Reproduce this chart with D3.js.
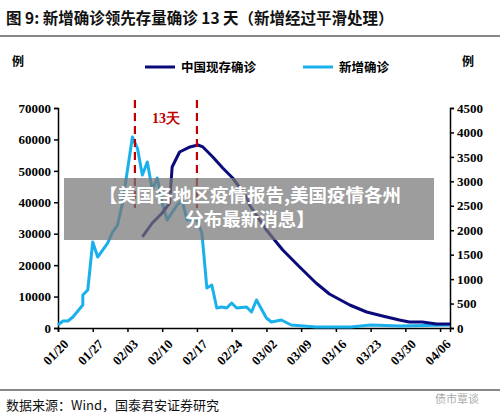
<!DOCTYPE html>
<html><head><meta charset="utf-8">
<script src="https://cdn.jsdelivr.net/npm/d3@7"></script>
<style>body{margin:0;background:#fff}</style>
</head><body>
<script>
// day offsets from 2020-01-20
var newDays = [0,1,2,3,5,5,6,7,8,10,11,12,13,14,15,16,17,18,19,20,21,22,24,25,26,28,29,30,31,32,33,34,35,36,38,39,40,42,43,45,47,52,59,63,69,79];
var newVals = [61,143,143,225,470,675,777,1759,1452,1738,1963,2106,2557,3231,3906,3681,3129,3395,2822,3068,2557,2209,2515,2618,2209,2209,1943,818,879,409,429,409,511,409,429,327,573,205,123,164,61,20,20,61,41,61];
var curDays = [17,19,21,22.5,23,24.5,26.6,28.2,29.2,31.2,33.2,35.2,38,38.6,42,45.3,48.7,52,54.7,58.8,62.2,65.4,68.8,70.8,73.4,76.3,79];
var curVals = [28960,33410,36590,39770,51230,56000,57600,58230,57600,54410,50910,47730,41680,39140,31180,24820,19410,14320,10820,7320,5090,3820,2550,1910,1910,1270,1270];
var tickDays = [0,7,14,21,28,35,42,49,56,63,70,77];
var tickLabels = ['01/20','01/27','02/03','02/10','02/17','02/24','03/02','03/09','03/16','03/23','03/30','04/06'];
var leftTicks = [0,10000,20000,30000,40000,50000,60000,70000];
var rightTicks = [0,500,1000,1500,2000,2500,3000,3500,4000,4500];
var markDays = [15.5, 28];

var W = 500, H = 419, serif = '"Liberation Serif","Times New Roman",serif', cjk = '"Noto Sans CJK SC",sans-serif';
var svg = d3.select('body').append('svg').attr('width', W).attr('height', H);

var x = d3.scaleLinear().domain([0, 79]).range([58, 450]);
var yL = d3.scaleLinear().domain([0, 70000]).range([328, 108]);
var yR = d3.scaleLinear().domain([0, 4500]).range([328, 108]);

// title
svg.append('text').attr('x', 6).attr('y', 24).attr('font-family', cjk).attr('font-weight', 'bold')
	.attr('font-size', 15.5).attr('fill', '#111').text('图 9: 新增确诊领先存量确诊 13 天（新增经过平滑处理）');
svg.append('line').attr('x1', 0).attr('x2', W).attr('y1', 36).attr('y2', 36).attr('stroke', '#888').attr('stroke-width', 2);

svg.append('text').attr('x', 12).attr('y', 66).attr('font-family', cjk).attr('font-size', 12).attr('font-weight', 'bold').text('例');
svg.append('text').attr('x', 462).attr('y', 66).attr('font-family', cjk).attr('font-size', 12).attr('font-weight', 'bold').text('例');

// legend
var leg = [{t: '中国现存确诊', c: '#0a0a7a', x: 145}, {t: '新增确诊', c: '#1ab0ec', x: 303}];
leg.forEach(function (d) {
	svg.append('line').attr('x1', d.x).attr('x2', d.x + 30).attr('y1', 67).attr('y2', 67).attr('stroke', d.c).attr('stroke-width', 3);
	svg.append('text').attr('x', d.x + 36).attr('y', 72).attr('font-family', cjk).attr('font-size', 12.5).attr('font-weight', 'bold').text(d.t);
});

// axes
var gL = svg.append('g').attr('transform', 'translate(58,0)')
	.call(d3.axisLeft(yL).tickValues(leftTicks).tickSize(4).tickFormat(d3.format('d')));
var gR = svg.append('g').attr('transform', 'translate(450,0)')
	.call(d3.axisRight(yR).tickValues(rightTicks).tickSize(4).tickFormat(d3.format('d')));
var gX = svg.append('g').attr('transform', 'translate(0,328)')
	.call(d3.axisBottom(x).tickValues(tickDays).tickSize(4).tickFormat(function (d, i) { return tickLabels[i]; }));
[gL, gR, gX].forEach(function (g) {
	g.selectAll('path,line').attr('stroke', '#000').attr('stroke-width', 1.5);
	g.selectAll('text').attr('font-family', serif).attr('font-weight', 'bold').attr('font-size', 13).attr('fill', '#000');
});
gX.selectAll('text').attr('text-anchor', 'end').attr('dy', 0)
	.attr('transform', 'translate(6,12) rotate(-45)');

// lines
var lineNew = d3.line().x(function (d, i) { return x(newDays[i]); }).y(function (d) { return yR(d); });
var lineCur = d3.line().x(function (d, i) { return x(curDays[i]); }).y(function (d) { return yL(d); });
svg.append('path').datum(newVals).attr('d', lineNew).attr('fill', 'none').attr('stroke', '#1ab0ec').attr('stroke-width', 3).attr('stroke-linejoin', 'round');
svg.append('path').datum(curVals).attr('d', lineCur).attr('fill', 'none').attr('stroke', '#0a0a7a').attr('stroke-width', 3).attr('stroke-linejoin', 'round');

// markers
markDays.forEach(function (d) {
	svg.append('line').attr('x1', x(d)).attr('x2', x(d)).attr('y1', 100).attr('y2', 208)
		.attr('stroke', '#c00000').attr('stroke-width', 2.2).attr('stroke-dasharray', '8,5');
});
svg.append('text').attr('x', 152).attr('y', 123).attr('font-family', serif).attr('font-weight', 'bold')
	.attr('font-size', 14).attr('fill', '#c00000').text('13天');

// overlay banner
svg.append('rect').attr('x', 64).attr('y', 178).attr('width', 370).attr('height', 62).attr('fill', '#777').attr('opacity', 0.72);
svg.append('text').attr('x', 250).attr('y', 202).attr('text-anchor', 'middle').attr('font-family', cjk).attr('font-weight', 'bold')
	.attr('font-size', 18.5).attr('fill', '#fff').text('【美国各地区疫情报告,美国疫情各州');
svg.append('text').attr('x', 250).attr('y', 226).attr('text-anchor', 'middle').attr('font-family', cjk).attr('font-weight', 'bold')
	.attr('font-size', 18.5).attr('fill', '#fff').text('分布最新消息】');

// footer
svg.append('line').attr('x1', 0).attr('x2', W).attr('y1', 390).attr('y2', 390).attr('stroke', '#888').attr('stroke-width', 2);
svg.append('text').attr('x', 6).attr('y', 410).attr('font-family', cjk).attr('font-size', 13).attr('fill', '#111').text('数据来源：Wind，国泰君安证券研究');
svg.append('text').attr('x', 435).attr('y', 403).attr('font-family', cjk).attr('font-size', 11).attr('fill', '#aaa').text('债市覃谈');
</script>
</body></html>
